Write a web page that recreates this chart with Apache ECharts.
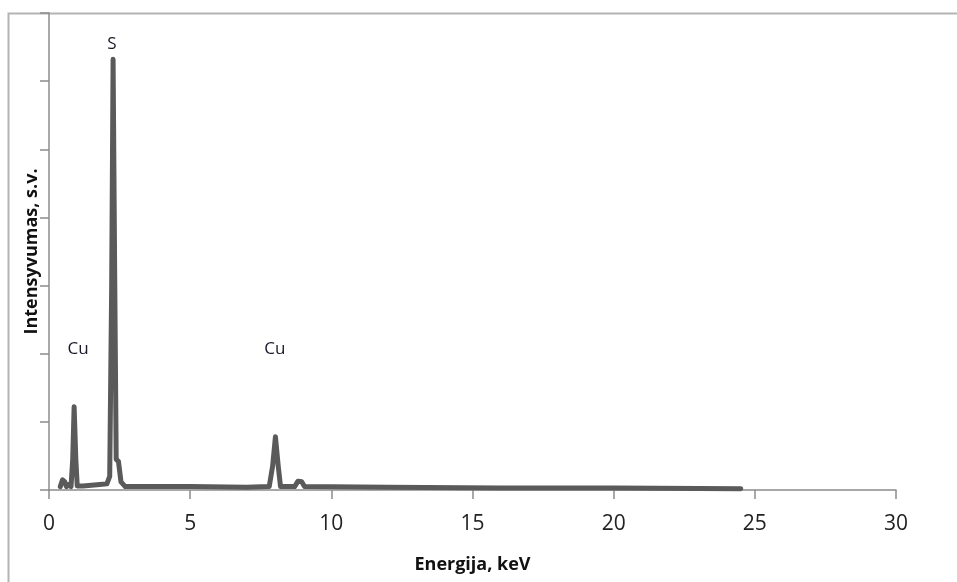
<!DOCTYPE html>
<html>
<head>
<meta charset="utf-8">
<script src="https://cdn.jsdelivr.net/npm/echarts@6/dist/echarts.min.js"></script>
<style>
  html, body { margin: 0; padding: 0; background: #fff; }
  #spectrum { width: 957px; height: 582px; }
</style>
</head>
<body>
<div id="spectrum"></div>
<script>
// energy (keV) and intensity (arb. units)
var energy = [0.40, 0.48, 0.56, 0.62, 0.70, 0.78, 0.84, 0.89, 0.95, 1.00, 1.2, 1.5, 1.8, 2.05, 2.15, 2.22, 2.27, 2.33, 2.38, 2.46, 2.55, 2.7, 3.5, 5, 7, 7.8, 7.92, 8.02, 8.12, 8.2, 8.7, 8.82, 8.95, 9.05, 12, 16, 20, 24.5];
var intensity = [0.05, 0.15, 0.12, 0.05, 0.08, 0.05, 0.45, 1.22, 0.45, 0.06, 0.06, 0.07, 0.08, 0.09, 0.2, 3.0, 6.32, 3.0, 0.45, 0.42, 0.12, 0.05, 0.05, 0.05, 0.04, 0.05, 0.35, 0.78, 0.35, 0.05, 0.05, 0.13, 0.12, 0.05, 0.04, 0.03, 0.03, 0.02];

var peakNames = ['Cu', 'S', 'Cu'];
var peakLabelX = [1.03, 2.23, 8.0];
var peakLabelY = [2.07, 6.55, 2.07];

var xTicks = [0, 5, 10, 15, 20, 25, 30];

var points = [];
for (var i = 0; i < energy.length; ++i) {
    points.push([energy[i], intensity[i]]);
}
var marks = [];
for (var j = 0; j < peakNames.length; ++j) {
    marks.push({ name: peakNames[j], coord: [peakLabelX[j], peakLabelY[j]] });
}

var font = '"Open Sans", sans-serif';
var chart = echarts.init(document.getElementById('spectrum'));
chart.setOption({
    animation: false,
    backgroundColor: '#fff',
    grid: { left: 49, right: 61, top: 13, bottom: 92 },
    graphic: [{
        type: 'rect',
        shape: { x: 8.5, y: 13.5, width: 1000, height: 700 },
        style: { fill: 'none', stroke: '#b4b4b4', lineWidth: 2 },
        silent: true
    }],
    xAxis: {
        type: 'value',
        min: xTicks[0],
        max: xTicks[xTicks.length - 1],
        interval: 5,
        name: 'Energija, keV',
        nameLocation: 'middle',
        nameGap: 66,
        nameTextStyle: { fontFamily: font, fontWeight: 'bold', fontSize: 18, color: '#111' },
        axisLine: { lineStyle: { color: '#8c8c8c', width: 1.5 } },
        axisTick: { show: true, length: 9, lineStyle: { color: '#8c8c8c', width: 1.5 } },
        axisLabel: { fontFamily: font, fontSize: 21, color: '#222', margin: 24 },
        splitLine: { show: false }
    },
    yAxis: {
        type: 'value',
        min: 0,
        max: 7,
        interval: 1,
        name: 'Intensyvumas, s.v.',
        nameLocation: 'middle',
        nameGap: 8,
        nameTextStyle: { fontFamily: font, fontWeight: 'bold', fontSize: 18, color: '#111' },
        axisLine: { show: true, lineStyle: { color: '#8c8c8c', width: 1.5 } },
        axisTick: { show: true, length: 9, lineStyle: { color: '#8c8c8c', width: 1.5 } },
        axisLabel: { show: false },
        splitLine: { show: false }
    },
    series: [{
        type: 'line',
        data: points,
        showSymbol: false,
        lineStyle: { color: '#5a5a5a', width: 5, join: 'round', cap: 'round' },
        markPoint: {
            symbol: 'circle',
            symbolSize: 0,
            label: {
                show: true,
                formatter: '{b}',
                fontFamily: font,
                fontSize: 17,
                color: '#1a1a2a'
            },
            data: marks
        }
    }]
});
</script>
</body>
</html>
